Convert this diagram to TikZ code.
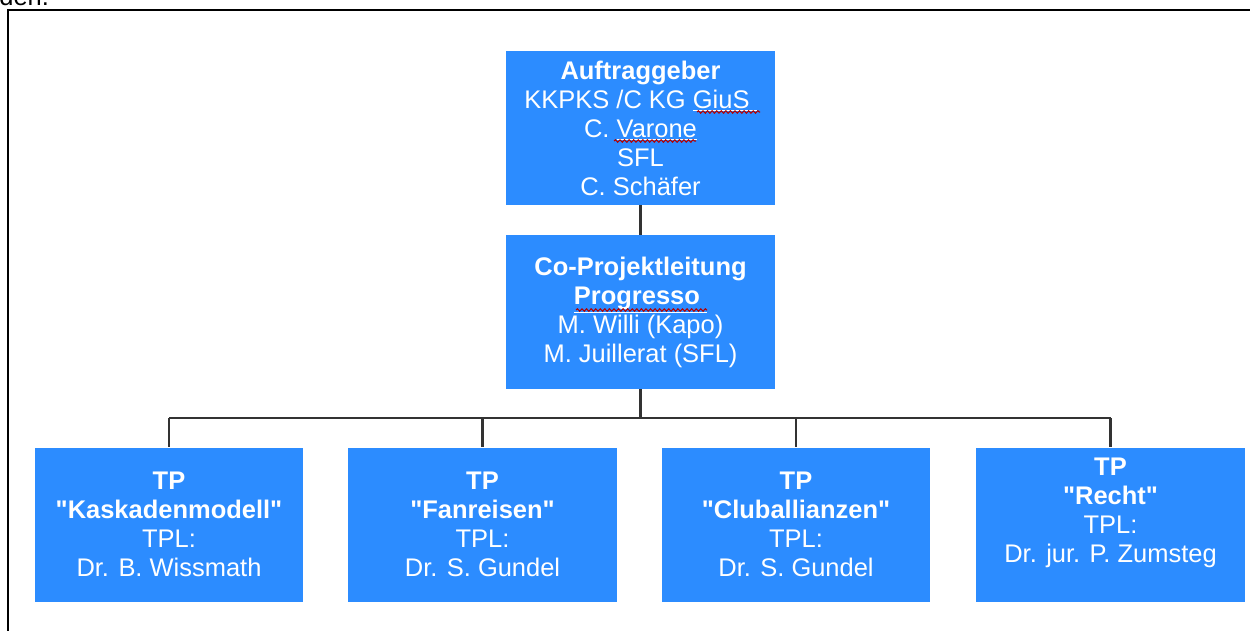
\documentclass[tikz,border=0pt]{standalone}
\usepackage{fontspec}
\setmainfont{Liberation Sans}[Ligatures=TeXOff]
\usetikzlibrary{decorations.pathmorphing}

\definecolor{boxblue}{RGB}{44,140,255}

\begin{document}
\begin{tikzpicture}[x=0.02cm, y=-0.02cm,
                    every node/.style={font=\fontsize{14.5}{16.5}\selectfont},
                    org box/.style={fill=boxblue, text=white, align=center,
                                    inner sep=0pt, minimum width=5.37cm,
                                    minimum height=3.08cm},
                    link/.style={draw=black!80, line width=1.3pt},
                    spell mark/.style={draw=red!70!black, line width=0.6pt,
                                       decorate, decoration={snake,
                                       amplitude=0.7pt, segment length=2.6pt}}]

  \useasboundingbox (0,0) rectangle (1250,630);

  % Page text and frame, cut by the page edge
  \node [anchor=base west, inner sep=0pt] (pagetext) at (-1,5) {den.};
  \draw [line width=1.2pt] (8,640) |- (1270,10);

  % Upper boxes
  \node [org box] (auftrag) at (640.5,128)
    {\textbf{Auftraggeber}\\ KKPKS /C KG \underline{GiuS\ }\\
     C. \underline{Varone}\\ SFL\\ C. Schäfer};
  \node [org box] (copl) at (640.5,312)
    {\textbf{Co-Projektleitung}\\ \textbf{\underline{Progresso\ }}\\
     M. Willi (Kapo)\\ M. Juillerat (SFL)};

  % Spelling marks
  \draw [spell mark] (697,112) -- (760,112);
  \draw [spell mark] (614,141) -- (696,141);
  \draw [spell mark] (576,310) -- (707,310);

  % Sub-projects in a loop
  \foreach \tp/\x/\title/\lead in {kaskaden/169/Kaskadenmodell/Dr. B. Wissmath,
                                  fanreisen/482.5/Fanreisen/Dr. S. Gundel,
                                  club/796/Cluballianzen/Dr. S. Gundel} {
    \node [org box] (\tp) at (\x,524.5)
      {\textbf{TP}\\ \textbf{"\title"}\\ TPL:\\ \lead};
  }
  % Recht box has its text set higher
  \node [org box] (recht) at (1110.5,524.5)
    {\textbf{TP}\\ \textbf{"Recht"}\\ TPL:\\ Dr. jur. P. Zumsteg\\ \mbox{}};

  % Connections
  \coordinate (bus) at (640.5,418);
  \draw [link] (auftrag) -- (copl);
  \draw [link] (copl) -- (bus);
  \draw [link] (kaskaden.north |- bus) -- (recht.north |- bus);
  \foreach \tp in {kaskaden, fanreisen, club, recht}
    \draw [link] (\tp.north |- bus) -- (\tp.north);

\end{tikzpicture}
\end{document}
